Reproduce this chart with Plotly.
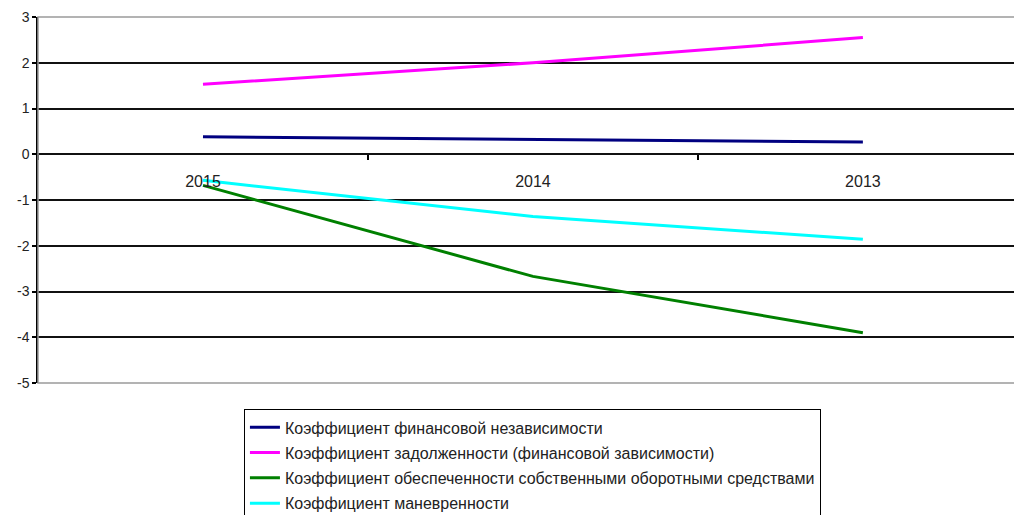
import plotly.graph_objects as go

# Years on the category axis (newest on the right)
years = ["2015", "2014", "2013"]

# Financial ratios per year
fin_independence = [0.38, 0.33, 0.27]
debt_ratio = [1.53, 2.0, 2.55]
own_working_capital = [-0.68, -2.67, -3.9]
maneuverability = [-0.57, -1.36, -1.86]

series_names = [
    "Коэффициент финансовой независимости",
    "Коэффициент задолженности (финансовой зависимости)",
    "Коэффициент обеспеченности собственными оборотными средствами",
    "Коэффициент маневренности",
]
series_values = [fin_independence, debt_ratio, own_working_capital, maneuverability]
series_colors = ["#000080", "#FF00FF", "#008000", "#00FFFF"]

y_ticks = list(range(-5, 4))
y_tick_text = [str(v) for v in y_ticks]

FONT = "Liberation Sans, Arial, sans-serif"

fig = go.Figure()
for i, (name, vals, col) in enumerate(zip(series_names, series_values, series_colors)):
    fig.add_trace(go.Scatter(
        x=years, y=vals, name=name, mode="lines",
        line=dict(color=col, width=3),
        legendgroup=f"g{i}",
    ))

# Plot-area frame (grey) drawn over the outer gridlines
fig.add_shape(type="rect", xref="paper", yref="paper", x0=0, x1=1.01, y0=0, y1=1,
              line=dict(color="#9a9a9a", width=1.5), layer="above")

fig.update_layout(
    width=1014, height=515,
    margin=dict(l=38, r=0, t=17, b=132, autoexpand=False),
    paper_bgcolor="white", plot_bgcolor="white",
    font=dict(family=FONT, size=14, color="#222222"),
    showlegend=True,
    legend=dict(
        x=0.211, y=-0.072, xanchor="left", yanchor="top",
        bordercolor="black", borderwidth=1, bgcolor="white",
        font=dict(family=FONT, size=16, color="#222222"),
        itemwidth=30,
        tracegroupgap=1.5,
    ),
    xaxis=dict(
        type="category", categoryorder="array", categoryarray=years,
        range=[-0.5, 2.458],
        anchor="free", position=229 / 366,
        showgrid=False, showline=False, zeroline=False,
        ticks="outside", ticklen=5, tickcolor="black", tickwidth=1.5,
        tickson="boundaries",
        ticklabelstandoff=16,
        tickfont=dict(family=FONT, size=16, color="#222222"),
    ),
    yaxis=dict(
        range=[-5, 3], tickvals=y_ticks, ticktext=y_tick_text,
        showgrid=True, gridcolor="#111111", gridwidth=1.5,
        zeroline=False,
        showline=True, linecolor="black", linewidth=1.5,
        ticks="outside", ticklen=4, tickcolor="black", tickwidth=1.5,
        tickfont=dict(family=FONT, size=14, color="#222222"),
    ),
)

fig.write_html("out.html")
